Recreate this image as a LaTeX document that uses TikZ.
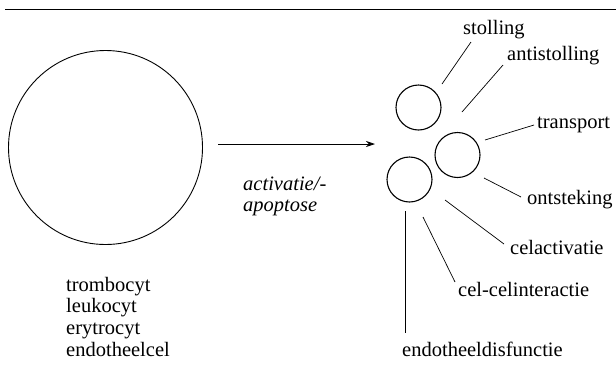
\documentclass[tikz,border=0pt]{standalone}
\usepackage{fontspec}
\setmainfont{Liberation Serif}
\usetikzlibrary{arrows.meta}
\begin{document}
\begin{tikzpicture}[x=1pt,y=-1pt,
  cell/.style={draw, circle, line width=1.1pt, inner sep=0pt},
  lbl/.style={anchor=base west, inner sep=0pt, font=\fontsize{20.5}{22}\selectfont},
  lead/.style={line width=0.7pt},
  arr/.style={line width=0.8pt, -{Stealth[length=9pt,width=6pt]}}]
\useasboundingbox (0,0) rectangle (616,365);
\draw[line width=0.9pt] (5,9) coordinate (tl) -- (616,9) coordinate (tr);
% big cell
\node[cell, line width=0.9pt, minimum size=194pt] (big) at (105.5,147.5) {};
% small cells
\node[cell, minimum size=45pt] (c1) at (418.5,107.5) {};
\node[cell, minimum size=45pt] (c2) at (457.5,155) {};
\node[cell, minimum size=45pt] (c3) at (409.5,179.5) {};
% arrow
\coordinate (as) at (218,144);
\coordinate (ae) at (375,144);
\draw[arr] (as) -- (ae);
\node[lbl, font=\fontsize{20.5}{22}\selectfont\itshape] (act) at (243,190) {activatie/-};
\node[lbl, font=\fontsize{20.5}{22}\selectfont\itshape] (apo) at (243,211) {apoptose};
% left labels
\node[lbl] (t1) at (66,291) {trombocyt};
\node[lbl] (t2) at (66,312.7) {leukocyt};
\node[lbl] (t3) at (66,334.3) {erytrocyt};
\node[lbl] (t4) at (66,356) {endotheelcel};
% right labels
\node[lbl] (l1) at (463,34) {stolling};
\node[lbl] (l2) at (507,60) {antistolling};
\node[lbl] (l3) at (537,128) {transport};
\node[lbl] (l4) at (527,204) {ontsteking};
\node[lbl] (l5) at (510,254) {celactivatie};
\node[lbl] (l6) at (458,296) {cel-celinteractie};
\node[lbl] (l7) at (402,356) {endotheeldisfunctie};
% leader end points
\coordinate (s1) at (442,84);  \coordinate (e1) at (471,42);
\coordinate (s2) at (462,112); \coordinate (e2) at (503,65);
\coordinate (s3) at (485,140); \coordinate (e3) at (534,125);
\coordinate (s4) at (484,178); \coordinate (e4) at (521,197);
\coordinate (s5) at (445,200); \coordinate (e5) at (504,244);
\coordinate (s6) at (423,217); \coordinate (e6) at (455,282);
\coordinate (s7) at (405,211); \coordinate (e7) at (405,333);
\foreach \i in {1,...,7} {\draw[lead] (s\i) -- (e\i);}
\end{tikzpicture}
\end{document}
